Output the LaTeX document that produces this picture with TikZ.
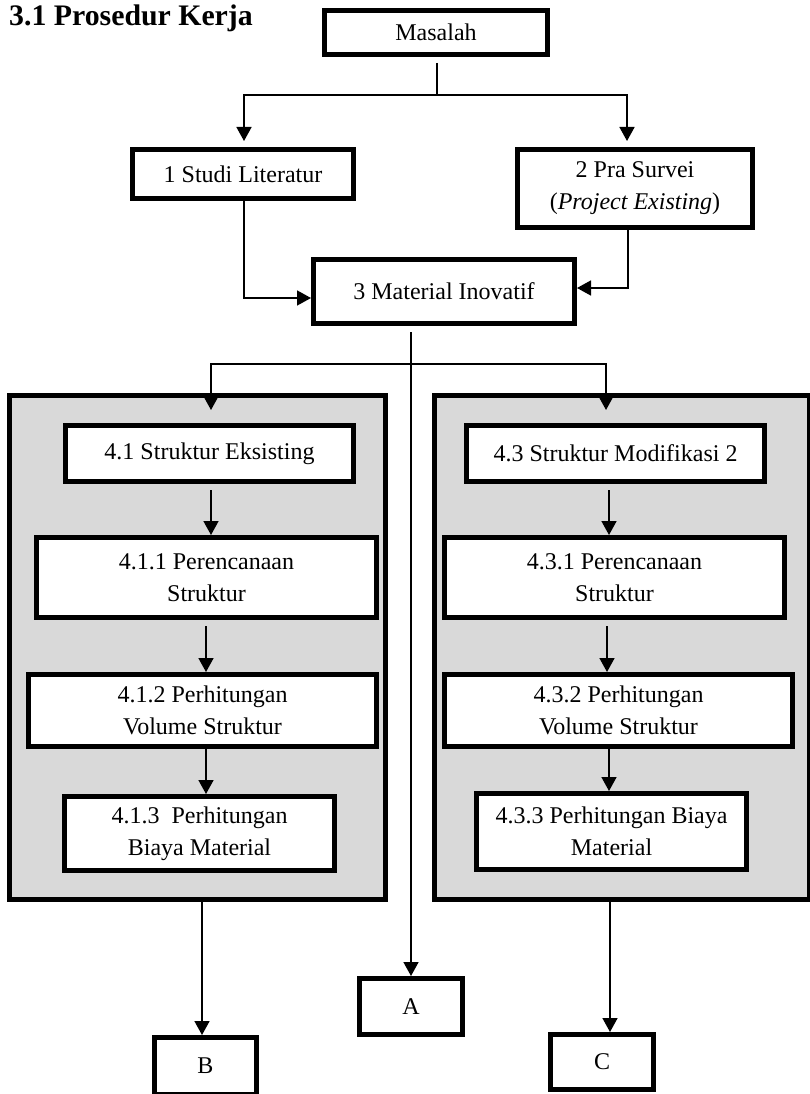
\documentclass[tikz,border=0pt]{standalone}
\usepackage{fontspec}
\setmainfont{Liberation Serif}
\usetikzlibrary{arrows.meta}
\definecolor{panelgrey}{HTML}{D9D9D9}
\begin{document}
\begin{tikzpicture}[x=1pt,y=-1pt,
  box/.style={draw, line width=5pt, fill=white, inner sep=0pt, align=center,
    font=\fontsize{24}{32}\selectfont},
  panelbox/.style={draw, line width=5pt, fill=panelgrey, inner sep=0pt},
  conn/.style={line width=1.6pt},
  arr/.style={conn, -{Triangle[length=14pt,width=15pt]}},
  ]
\useasboundingbox (0,0) rectangle (810,1094);

% title
\node[anchor=base west, inner sep=0pt, font=\fontsize{29.8}{34}\selectfont\bfseries] (title) at (9,26) {3.1 Prosedur Kerja};

% panels
\node[panelbox, minimum width=376pt, minimum height=504pt] (panelL) at (197.5,647.5) {};
\node[panelbox, minimum width=375pt, minimum height=504pt] (panelR) at (622,647.5) {};

% top boxes
\node[box, minimum width=223pt, minimum height=44pt] (masalah) at (436,32.5) {Masalah};
\node[box, minimum width=221pt, minimum height=49pt] (studi) at (243,174) {1 Studi Literatur};
\node[box, minimum width=235pt, minimum height=78pt] (pra) at (635,188.5) {2 Pra Survei\\(\textit{Project Existing})};
\node[box, minimum width=261pt, minimum height=64pt] (mat) at (444,291.5) {3 Material Inovatif};

% left panel boxes
\node[box, minimum width=288pt, minimum height=56pt] (b41) at (209.5,453.5) {4.1 Struktur Eksisting};
\node[box, minimum width=340pt, minimum height=80pt] (b411) at (206.5,577.5) {4.1.1 Perencanaan\\Struktur};
\node[box, minimum width=348pt, minimum height=72pt] (b412) at (202.5,710.5) {4.1.2 Perhitungan\\Volume Struktur};
\node[box, minimum width=270pt, minimum height=74pt] (b413) at (199.5,833.5) {4.1.3\ \ Perhitungan\\Biaya Material};

% right panel boxes
\node[box, minimum width=298pt, minimum height=56pt] (b43) at (615.5,453.5) {4.3 Struktur Modifikasi 2};
\node[box, minimum width=340pt, minimum height=80pt] (b431) at (614.5,577.5) {4.3.1 Perencanaan\\Struktur};
\node[box, minimum width=348pt, minimum height=72pt] (b432) at (618.5,710.5) {4.3.2 Perhitungan\\Volume Struktur};
\node[box, minimum width=270pt, minimum height=76pt] (b433) at (611.5,831.5) {4.3.3 Perhitungan Biaya\\Material};

% connector boxes
\node[box, minimum width=103pt, minimum height=56pt] (A) at (411,1006.5) {A};
\node[box, minimum width=102pt, minimum height=57pt] (B) at (205.5,1066) {B};
\node[box, minimum width=103pt, minimum height=55pt] (C) at (602,1062) {C};

% junction coordinates
\coordinate (j1) at (437,95);
\coordinate (j2) at (411,364);
\coordinate (tL) at (211,410);
\coordinate (tR) at (606,410);

% connectors top
\draw[conn] ([xshift=1pt,yshift=-6pt]masalah.south) -- (j1);
\draw[arr, shorten >=6pt] (j1) -| ([xshift=1pt]studi.north);
\draw[arr, shorten >=6pt] (j1) -| ([xshift=-8pt]pra.north);
\draw[arr] ([xshift=1pt]studi.south) |- ([yshift=-6.5pt]mat.west);
\draw[arr] ([xshift=-7pt]pra.south) |- ([yshift=3.5pt]mat.east);

% material -> A and branch
\draw[arr, shorten <=6pt] ([xshift=-33pt]mat.south) -- (A.north);
\draw[arr] (j2) -| (tL);
\draw[arr] (j2) -| (tR);

% left panel arrows
\draw[arr, shorten <=6pt] ([xshift=1.5pt]b41.south) -- ([xshift=1.5pt]b41.south |- b411.north);
\draw[arr, shorten <=6pt] ([xshift=-0.5pt]b411.south) -- ([xshift=-0.5pt]b411.south |- b412.north);
\draw[arr] ([xshift=3.5pt]b412.south) -- ([xshift=3.5pt]b412.south |- b413.north);

% right panel arrows
\draw[arr, shorten <=6pt] ([xshift=-6.5pt]b43.south) -- ([xshift=-6.5pt]b43.south |- b431.north);
\draw[arr, shorten <=6pt] ([xshift=-7.5pt]b431.south) -- ([xshift=-7.5pt]b431.south |- b432.north);
\draw[arr] ([xshift=-9.5pt]b432.south) -- ([xshift=-9.5pt]b432.south |- b433.north);

% panels -> B, C
\draw[arr] ([xshift=4.5pt]panelL.south) -- ([xshift=4.5pt]panelL.south |- B.north);
\draw[arr] ([xshift=-12pt]panelR.south) -- ([xshift=-12pt]panelR.south |- C.north);
\end{tikzpicture}
\end{document}
